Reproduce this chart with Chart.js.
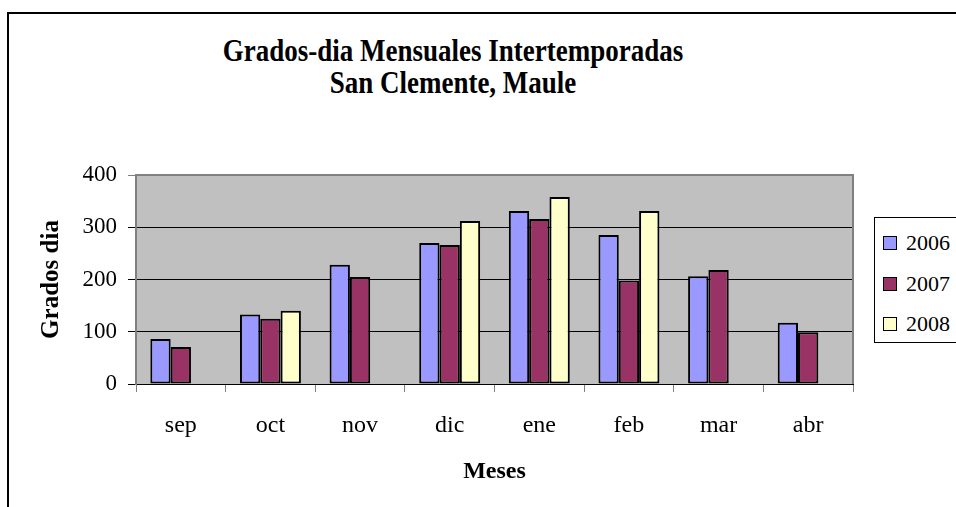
<!DOCTYPE html>
<html>
<head>
<meta charset="utf-8">
<script src="https://cdn.jsdelivr.net/npm/chart.js@4.4.1/dist/chart.umd.min.js"></script>
<style>
  body { margin: 0; background: #fff; overflow: hidden; width: 956px; height: 507px; position: relative; }
  #frame { position: absolute; left: 7px; top: 12px; width: 1100px; height: 600px;
           border-left: 2px solid #000; border-top: 2px solid #000; }
  #title { position: absolute; left: 8px; top: 35px; width: 890px; text-align: center;
           font: bold 27px "Liberation Serif", "Times New Roman", serif; line-height: 26px;
           transform: scaleY(1.2); transform-origin: center top; color: #000; }
  #wrap { position: absolute; left: 0; top: 0; width: 956px; height: 507px; }
  #legend { position: absolute; left: 874px; top: 217px; width: 120px; height: 124px;
            border: 1px solid #000; background: #fff; }
  #legend .item { position: absolute; left: 8px; height: 22px; display: flex; align-items: center;
                  font: 22px "Liberation Serif", "Times New Roman", serif; color: #000; }
  #legend .swatch { width: 12px; height: 12px; border: 1px solid #000; margin-right: 9px; }
</style>
</head>
<body>
<div id="frame"></div>
<div id="title">Grados-dia Mensuales Intertemporadas<br>San Clemente, Maule</div>
<div id="wrap"><canvas id="chart"></canvas></div>
<div id="legend"></div>
<script>
const months = ["sep", "oct", "nov", "dic", "ene", "feb", "mar", "abr"];
const years = ["2006", "2007", "2008"];
const gd2006 = [86, 133, 228, 270, 331, 285, 206, 117];
const gd2007 = [71, 125, 205, 266, 316, 198, 218, 99];
const gd2008 = [null, 140, null, 312, 358, 331, null, null];
const yTicks = [0, 100, 200, 300, 400];

const colors = ["#9999FF", "#993366", "#FFFFCC"];
const serif = "'Liberation Serif', 'Times New Roman', serif";

Chart.defaults.font.family = serif;
Chart.defaults.color = "#000";

// legend box on the right, one row per year
const legendEl = document.getElementById("legend");
years.forEach((yr, i) => {
  const row = document.createElement("div");
  row.className = "item";
  row.style.top = (14 + i * 40.5) + "px";
  const sw = document.createElement("span");
  sw.className = "swatch";
  sw.style.background = colors[i];
  row.appendChild(sw);
  row.appendChild(document.createTextNode(yr));
  legendEl.appendChild(row);
});

// grey plot background plus the top/right frame of the plot
const plotBox = {
  id: "plotBox",
  beforeDraw(chart) {
    const { ctx, chartArea: a } = chart;
    ctx.save();
    ctx.fillStyle = "#C0C0C0";
    ctx.fillRect(a.left, a.top, a.right - a.left, a.bottom - a.top);
    ctx.restore();
  },
  afterDatasetsDraw(chart) {
    const { ctx, chartArea: a } = chart;
    ctx.save();
    ctx.strokeStyle = "#808080";
    ctx.lineWidth = 2;
    ctx.beginPath();
    ctx.moveTo(a.left, a.top);
    ctx.lineTo(a.right, a.top);
    ctx.lineTo(a.right, a.bottom);
    ctx.stroke();
    ctx.restore();
  }
};

new Chart(document.getElementById("chart"), {
  type: "bar",
  data: {
    labels: months,
    datasets: [gd2006, gd2007, gd2008].map((vals, i) => ({
      label: years[i],
      data: vals,
      backgroundColor: colors[i],
      borderColor: "#000",
      borderWidth: 2,
      borderSkipped: false,
      categoryPercentage: 0.68,
      barPercentage: 1.0
    }))
  },
  options: {
    responsive: true,
    maintainAspectRatio: false,
    animation: false,
    layout: { padding: { left: 8, top: 175, right: 103, bottom: 0 } },
    plugins: {
      title: { display: false },
      tooltip: { enabled: false },
      legend: { display: false }
    },
    scales: {
      x: {
        grid: {
          offset: true,
          drawOnChartArea: false,
          drawTicks: true,
          tickLength: 8,
          color: "#808080"
        },
        border: { color: "#000", width: 1 },
        ticks: { font: { family: serif, size: 24 }, color: "#000", padding: 19 },
        title: {
          display: true,
          text: "Meses",
          font: { family: serif, size: 24, weight: "bold" },
          color: "#000",
          padding: { top: 0, bottom: 21 }
        },
        afterFit(scale) { scale.height = 123; }
      },
      y: {
        min: 0,
        max: 400,
        afterBuildTicks(scale) { scale.ticks = yTicks.map(v => ({ value: v })); },
        grid: {
          tickLength: 8,
          color: ctx => (ctx.tick && ctx.tick.value === 400 ? "#808080" : "#000"),
          lineWidth: 1
        },
        border: { color: "#808080", width: 2 },
        ticks: { font: { family: serif, size: 23 }, color: "#000", padding: 11 },
        title: {
          display: true,
          text: "Grados dia",
          font: { family: serif, size: 25, weight: "bold" },
          color: "#000",
          padding: { top: 29, bottom: 0 }
        },
        afterFit(scale) { scale.width = 128; }
      }
    }
  },
  plugins: [plotBox]
});
</script>
</body>
</html>
